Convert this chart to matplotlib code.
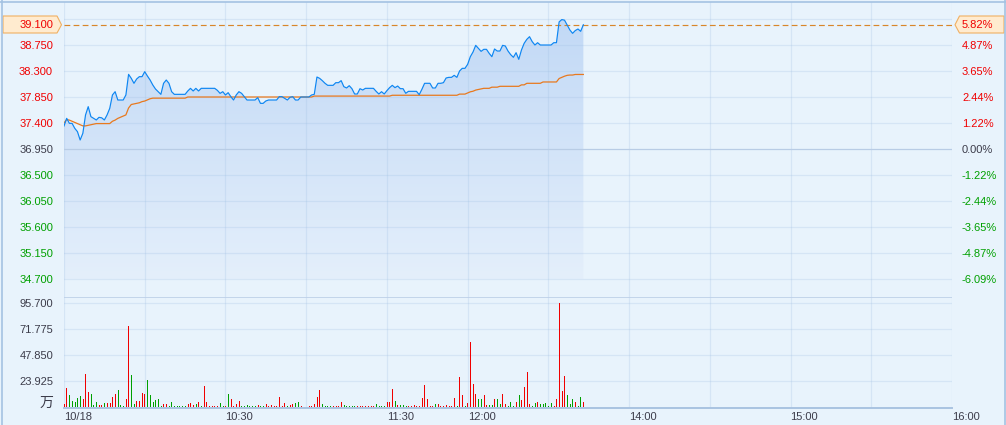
import numpy as np
import matplotlib
matplotlib.use('Agg')
import matplotlib.pyplot as plt
from matplotlib.patches import Polygon
from matplotlib.lines import Line2D
from matplotlib.colors import LinearSegmentedColormap

# --- data (one value per trading minute from 9:30) ---
prev_close = 36.95

price = [
    37.348, 37.481, 37.394, 37.394, 37.308, 37.250, 37.106, 37.221, 37.539, 37.683,
    37.510, 37.481, 37.452, 37.498, 37.490, 37.452, 37.539, 37.654, 37.885, 37.942,
    37.798, 37.798, 37.798, 37.885, 38.242, 38.173, 38.087, 38.162, 38.202, 38.202,
    38.288, 38.213, 38.144, 38.058, 37.988, 37.942, 37.896, 38.087, 38.144, 38.087,
    37.942, 37.896, 37.896, 37.896, 37.896, 37.896, 37.954, 38.000, 37.954, 38.000,
    37.954, 38.000, 38.000, 38.000, 38.000, 38.000, 38.000, 37.965, 37.913, 37.942,
    37.885, 37.925, 37.856, 37.798, 37.885, 37.942, 37.913, 37.856, 37.798, 37.798,
    37.798, 37.798, 37.839, 37.740, 37.740, 37.781, 37.798, 37.798, 37.798, 37.798,
    37.856, 37.856, 37.827, 37.798, 37.845, 37.856, 37.798, 37.798, 37.850, 37.850,
    37.850, 37.850, 37.885, 37.896, 38.196, 38.173, 38.133, 38.087, 38.052, 38.052,
    38.052, 38.098, 38.098, 38.133, 38.029, 38.006, 38.046, 37.994, 37.902, 37.902,
    37.994, 37.971, 38.000, 38.000, 38.000, 38.000, 37.948, 37.902, 37.942, 37.902,
    37.960, 38.012, 38.052, 38.012, 38.040, 37.994, 37.994, 37.914, 37.948, 37.948,
    37.948, 37.948, 37.890, 37.983, 38.087, 38.087, 38.087, 38.006, 38.006, 38.087,
    38.087, 38.098, 38.179, 38.190, 38.190, 38.225, 38.190, 38.300, 38.346, 38.346,
    38.415, 38.548, 38.629, 38.744, 38.692, 38.640, 38.675, 38.675, 38.606, 38.548,
    38.681, 38.646, 38.646, 38.744, 38.733, 38.646, 38.583, 38.537, 38.617, 38.502,
    38.663, 38.779, 38.848, 38.894, 38.808, 38.750, 38.790, 38.750, 38.750, 38.750,
    38.750, 38.750, 38.790, 38.790, 39.150, 39.190, 39.180, 39.096, 39.010, 38.952,
    39.000, 39.027, 38.987, 39.100,
]

avg_price = (
    [37.40, 37.46, 37.45, 37.43, 37.41, 37.39, 37.37, 37.35, 37.35, 37.36,
     37.37, 37.38] + [37.39] * 6 +
    [37.43, 37.45, 37.48, 37.50, 37.52, 37.54, 37.66, 37.72, 37.73, 37.74,
     37.75, 37.77, 37.78, 37.80, 37.82, 37.83] +
    [37.83] * 12 + [37.85] * 47 + [37.866] * 29 + [37.88] * 25 + [37.90] * 3 +
    [37.92, 37.94, 37.95, 37.97, 37.98, 37.99] +
    [38.00] * 3 + [38.02] * 3 + [38.035] * 8 + [38.06] * 2 + [38.087] * 6 +
    [38.11] * 6 + [38.17, 38.19, 38.21, 38.225] + [38.23] * 2 + [38.24] * 4
)

volume = [
    2.8, 17.5, 11, 5.5, 4.6, 8.3, 10.1, 7.4, 30.4, 13.8,
    12, 1.8, 4.6, 1.8, 1.8, 3.7, 3.7, 3.7, 9.2, 12,
    15.6, 1.8, 0.9, 7.4, 74.6, 29.5, 2.8, 5.5, 5.5, 12.9,
    12, 24.9, 11, 4.6, 6.4, 7.4, 0.9, 2.8, 2.8, 0.9,
    4.6, 0.9, 0.9, 0.9, 0.9, 0.9, 2.8, 3.7, 1.8, 2.8,
    4.6, 0.9, 19.3, 4.6, 0.9, 0.9, 0.9, 0.9, 3.7, 0.9,
    0.9, 12, 7.4, 0.9, 2.8, 5.5, 0.9, 0.9, 1.8, 0.9,
    0.9, 0.9, 1.8, 0.9, 0.9, 2.8, 0.9, 1.8, 0.9, 0.9,
    9.2, 0.9, 3.7, 0.9, 1.8, 2.8, 3.7, 4.6, 0.9, 0,
    0, 0.9, 0.9, 2.8, 9.2, 15.6, 2.8, 0.9, 0.9, 0.9,
    0.9, 0.9, 0.9, 4.6, 1.8, 0.9, 0.9, 0.9, 0.9, 0.9,
    0.9, 0.9, 0.9, 0.9, 0.9, 0.9, 2.8, 0.9, 0.9, 0.9,
    4.6, 4.6, 16.6, 5.5, 1.8, 1.8, 1.8, 0.9, 0.9, 0.9,
    1.8, 0.9, 0.9, 8.3, 20.2, 7.4, 0.9, 0.9, 2.8, 2.8,
    0.9, 0.9, 1.8, 0.9, 0.9, 8.3, 0.9, 27.6, 11, 0.9,
    3.7, 59.8, 21.2, 12, 7.4, 7.4, 11, 1.8, 1.8, 1.8,
    7.4, 7.4, 2.8, 12, 2.8, 0.9, 4.6, 0.9, 4.6, 11,
    6.4, 18.4, 32.2, 2.8, 0.9, 3.7, 4.6, 2.8, 2.8, 3.7,
    0.9, 3.7, 0.9, 7.4, 95.7, 14.7, 28.5, 11, 2.8, 7.4,
    4.6, 0.9, 9.2, 4.6,
]

# r = up minute, g = down minute
vol_dir = ("rrgggggrrr" "gggrrgrrrr" "gggrrggrrr" "rggggggrrg" "ggggggrrrg"
           "rgrrrrrrgg" "rgrrrrgggg" "ggrggrrrrr" "rrrgrrggrg" "grrrrrgggg"
           "rrrrgggggr" "rrrrrrgggg" "rrrgrgggrr" "rrrrrrrrgr" "rrrrrrgrrg"
           "rrrrggrrgg" "rggrrgggrg" "rrrrggrggg" "ggrrrrrggg" "rggr")

price_ticks = [38.75, 38.30, 37.85, 37.40, 36.95, 36.50, 36.05, 35.60, 35.15, 34.70]
price_top = 39.20
vol_ticks = [95.7, 71.775, 47.85, 23.925]
time_ticks = [0, 60, 120, 150, 210, 270, 330]
time_labels = ['10/18', '10:30', '11:30', '12:00', '14:00', '15:00', '16:00']
session_len = 330

# --- style ---
W, H = 1006, 425
BG = '#E8F3FC'
RED = '#F00000'
GREEN = '#00A000'
NEUTRAL = '#3C3C4A'
GRID = (0.62, 0.75, 0.89, 0.25)
plt.rcParams['font.family'] = ['Liberation Sans', 'DejaVu Sans']
plt.rcParams['font.size'] = 8


def fxy(x, y):
    return x / W, 1 - y / H


def tick_color(v):
    if round(v, 3) > prev_close:
        return RED
    if round(v, 3) < prev_close:
        return GREEN
    return NEUTRAL


fig = plt.figure(figsize=(W / 100, H / 100), dpi=100, facecolor=BG)

# price panel: 34.70 at y=279px, 0.45 per 26px, panel spans 2..297px
unit = 0.45 / 26
ax = fig.add_axes([64 / W, 1 - 297 / H, 888 / W, 295 / H])
ax.set_facecolor(BG)
x = np.arange(len(price))
low = price_ticks[-1]

poly = ax.fill_between(x, price, low, color='none', linewidth=0)
cmap = LinearSegmentedColormap.from_list('fill', ['#E4EFFB', '#C2D9F6'])
im = ax.imshow(np.linspace(0, 1, 256).reshape(-1, 1), extent=[0, session_len, low, price_top],
               origin='lower', aspect='auto', cmap=cmap, zorder=1)
im.set_clip_path(poly.get_paths()[0], transform=ax.transData)

for t in range(0, session_len + 1, 30):
    ax.axvline(t, color=GRID, lw=0.9, zorder=2)
for v in price_ticks + [price_top]:
    if v == prev_close:
        ax.axhline(v, color='#B8CCE5', lw=0.9, zorder=2)
    else:
        ax.axhline(v, color=GRID, lw=0.9, zorder=2)

last = price[-1]
ax.axhline(last, color='#D8862A', lw=0.85, ls=(0, (4.9, 2.8)), zorder=3)
ax.plot(x, avg_price, color='#E8791E', lw=0.9, zorder=4)
ax.plot(x, price, color='#0D86F2', lw=0.85, zorder=5)

ax.set_xlim(0, session_len)
ax.set_ylim(low - 18 * unit, price_top + 17 * unit)
ax.set_xticks([])
ax.set_yticks(price_ticks, [f'{v:.3f}' for v in price_ticks])
ax.tick_params(axis='y', length=0, pad=7.9)
for lab, v in zip(ax.get_yticklabels(), price_ticks):
    lab.set_color(tick_color(v))
for s in ax.spines.values():
    s.set_visible(False)

axr = ax.twinx()
axr.set_ylim(ax.get_ylim())
axr.set_yticks(price_ticks, [f'{(v - prev_close) / prev_close * 100:.2f}%' for v in price_ticks])
axr.tick_params(axis='y', length=0, pad=7.2)
for lab, v in zip(axr.get_yticklabels(), price_ticks):
    lab.set_color(tick_color(v))
for s in axr.spines.values():
    s.set_visible(False)

# volume panel: 0 at 407px, 23.925 per 26px, panel spans 297..408px
vunit = vol_ticks[-1] / 26
axv = fig.add_axes([64 / W, 1 - 408 / H, 888 / W, 111 / H])
axv.set_facecolor(BG)
colors = [RED if c == 'r' else GREEN for c in vol_dir]
axv.bar(np.arange(len(volume)) + 0.1, volume, width=0.37, color=colors, linewidth=0,
        antialiased=False, zorder=3)
for t in range(0, session_len + 1, 30):
    axv.axvline(t, color=GRID, lw=0.9, zorder=1)
for v in vol_ticks:
    axv.axhline(v, color=GRID, lw=0.9, zorder=1)
axv.set_xlim(0, session_len)
axv.set_ylim(-1 * vunit, vol_ticks[0] + 6 * vunit)
axv.axhline(vol_ticks[0] + 6 * vunit, color='#BCCFE7', lw=1.2, zorder=2)
axv.set_yticks(vol_ticks, [f'{v:.3f}' for v in vol_ticks])
axv.tick_params(axis='y', length=0, pad=7.9, colors=NEUTRAL)
axv.set_xticks(time_ticks, time_labels)
axv.tick_params(axis='x', length=0, pad=3, colors=NEUTRAL)
for lab in axv.get_xticklabels():
    lab.set_horizontalalignment('left')
for name, s in axv.spines.items():
    if name == 'bottom':
        s.set_color('#A9C3E1')
        s.set_linewidth(1.4)
    else:
        s.set_visible(False)
fig.text(*fxy(46, 402.5), '万', ha='center', va='center', fontsize=10,
         family=['Noto Sans CJK SC', 'DejaVu Sans'], color=NEUTRAL)

# last-price callouts
pct = (last - prev_close) / prev_close * 100
left_box = [fxy(3, 16), fxy(57, 16), fxy(61.5, 24.8), fxy(57, 33), fxy(3, 33)]
right_box = [fxy(955, 24.8), fxy(959.5, 16), fxy(1004, 16), fxy(1004, 33), fxy(959.5, 33)]
for pts in (left_box, right_box):
    fig.add_artist(Polygon(pts, closed=True, transform=fig.transFigure,
                           facecolor='#FFEBCF', edgecolor='#F0B062', lw=0.8))
fig.text(*fxy(53, 25), f'{last:.3f}', ha='right', va='center', color=RED)
fig.text(*fxy(962, 25), f'{pct:.2f}%', ha='left', va='center', color=RED)

# outer frame
frame = '#A4C2E2'
fig.add_artist(Line2D([1.5 / W, 1.5 / W], [0, 1], color=frame, lw=1.2, transform=fig.transFigure))
fig.add_artist(Line2D([0, 1], [1 - 1.5 / H, 1 - 1.5 / H], color=frame, lw=1.2, transform=fig.transFigure))
fig.add_artist(Line2D([1 - 1.5 / W, 1 - 1.5 / W], [0, 1], color=frame, lw=1.2, transform=fig.transFigure))

fig.savefig('out.png', dpi=100, facecolor=BG)
